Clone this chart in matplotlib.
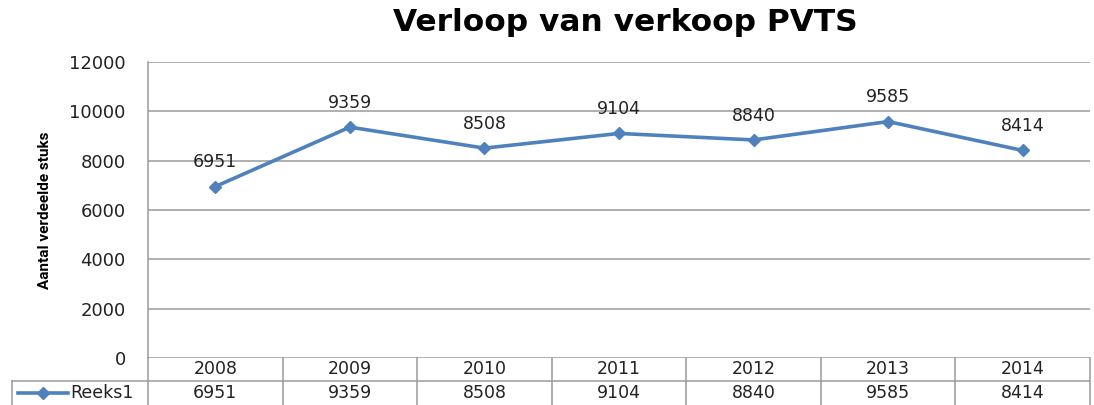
import numpy as np
import matplotlib.pyplot as plt
import matplotlib.transforms as mtransforms
from matplotlib.lines import Line2D

years = ['2008', '2009', '2010', '2011', '2012', '2013', '2014']
sales = [6951, 9359, 8508, 9104, 8840, 9585, 8414]
series_name = 'Reeks1'
y_ticks = [0, 2000, 4000, 6000, 8000, 10000, 12000]

blue = '#4F81BD'
grid_gray = '#9a9a9a'
txt = '#222222'
fs = 12.5

fig = plt.figure(figsize=(10.94, 4.05), dpi=100)
ax = fig.add_axes([148 / 1094, 1 - 358 / 405, (1090 - 148) / 1094, (358 - 62) / 405])

x = np.arange(len(years))
ax.plot(x, sales, color=blue, lw=2.6, marker='D', ms=6.5, zorder=3)
for xi, v in zip(x, sales):
    ax.annotate(str(v), (xi, v), xytext=(0, 11), textcoords='offset points',
                ha='center', va='bottom', fontsize=fs, color=txt)

ax.set_xlim(-0.5, len(years) - 0.5)
ax.set_ylim(0, 12000)
ax.set_yticks(y_ticks)
ax.set_yticklabels([str(t) for t in y_ticks], fontsize=13, color=txt)
ax.tick_params(axis='y', length=0, pad=16)
ax.set_xticks([])
ax.grid(axis='y', color=grid_gray, lw=1.1)
ax.set_axisbelow(True)
for s in ['top', 'right', 'bottom']:
    ax.spines[s].set_visible(False)
ax.spines['left'].set_color(grid_gray)
ax.spines['left'].set_linewidth(1.1)

ax.set_ylabel('Aantal verdeelde stuks', fontsize=11, fontweight='bold',
              family=['Roboto', 'DejaVu Sans'], color='black')
ax.yaxis.set_label_coords(-96 / 942, 0.5)

fig.suptitle('Verloop van verkoop PVTS', fontsize=22.5, fontweight='bold',
             x=0.572, y=0.98, family='DejaVu Sans')

# data table below the axis
trans = mtransforms.blended_transform_factory(ax.transData, ax.transAxes)
head_y = -11.5 / 296
data_y = -35 / 296
bottom = -47 / 296
for xi, yr, v in zip(x, years, sales):
    ax.text(xi, head_y, yr, transform=trans, ha='center', va='center',
            fontsize=fs, color=txt)
    ax.text(xi, data_y, str(v), transform=trans, ha='center', va='center',
            fontsize=fs, color=txt)
for b in np.arange(len(years) + 1) - 0.5:
    ax.plot([b, b], [0, bottom], transform=trans, color=grid_gray, lw=1.1,
            clip_on=False)

# legend cell of the table
fig.add_artist(Line2D([12 / 1094, 1090 / 1094], [1 - 381 / 405] * 2,
                      color=grid_gray, lw=1.1))
fig.add_artist(Line2D([12 / 1094] * 2, [1 - 381 / 405, 0], color=grid_gray, lw=1.1))
fig.add_artist(Line2D([18 / 1094, 68 / 1094], [1 - 393 / 405] * 2, color=blue, lw=2.6))
fig.add_artist(Line2D([43 / 1094], [1 - 393 / 405], color=blue, marker='D', ms=6.5))
fig.text(70 / 1094, 1 - 393 / 405, series_name, ha='left', va='center',
         fontsize=fs, color=txt)

fig.savefig('out.png', dpi=100)
